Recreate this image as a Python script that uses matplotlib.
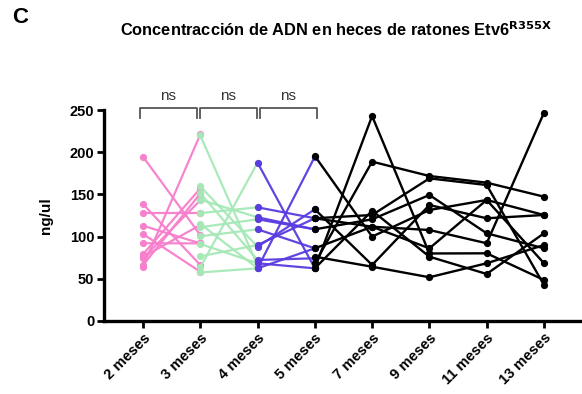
import numpy as np
import matplotlib.pyplot as plt

plt.rcParams['font.family'] = ['Liberation Sans', 'DejaVu Sans']

meses = ['2 meses', '3 meses', '4 meses', '5 meses', '7 meses', '9 meses', '11 meses', '13 meses']

# pares 2 -> 3 meses
rosa_2m = [194.7, 138.6, 127.6, 112.9, 103.1, 92.1, 79.0, 74.3, 64.3, 66.0, 76.0]
rosa_3m = [102.0, 66.4, 127.6, 92.0, 58.4, 92.0, 157.0, 143.0, 221.0, 151.0, 113.7]

# pares 3 -> 4 meses
verde_3m = [220.0, 159.5, 151.6, 143.7, 127.8, 115.1, 111.1, 100.4, 91.3, 76.6, 63.5, 57.5]
verde_4m = [66.0, 88.0, 72.3, 122.9, 134.7, 62.4, 120.5, 108.6, 68.4, 90.0, 187.6, 62.4]

# pares 4 -> 5 meses
azul_4m = [187.6, 62.4, 134.7, 122.9, 120.5, 108.6, 90.0, 88.0, 72.3, 68.4, 62.4]
azul_5m = [62.4, 194.7, 121.7, 108.6, 108.6, 86.1, 121.7, 132.3, 74.3, 62.4, 86.1]

# seguimiento 5 -> 13 meses (un raton por fila)
negro = [
    [195.5, 100.0, 131.5, 143.4, 125.6],
    [62.4, 242.9, 80.0, 80.2, 48.6],
    [68.4, 188.8, 171.8, 163.9, 147.3],
    [121.7, 125.6, 169.0, 161.1, 42.7],
    [132.3, 66.4, 137.4, 121.7, 125.6],
    [108.6, 120.5, 149.3, 103.9, 86.1],
    [86.1, 111.7, 107.8, 92.1, 246.8],
    [76.2, 64.3, 51.8, 68.4, 90.0],
    [121.7, 111.7, 86.1, 143.4, 68.4],
    [62.4, 130.7, 76.2, 55.7, 103.9],
]

fig = plt.figure(figsize=(5.82, 3.94), dpi=100)
ax = fig.add_axes([0.1787, 0.1853, 0.818, 0.5355])

def pares(x0, a, b, color):
    for ya, yb in zip(a, b):
        ax.plot([x0, x0 + 1], [ya, yb], '-o', color=color, lw=1.6, ms=4.2, alpha=0.95)

pares(0, rosa_2m, rosa_3m, '#f77fcc')
pares(1, verde_3m, verde_4m, '#a6e8b6')
pares(2, azul_4m, azul_5m, '#5a3be0')
for fila in negro:
    ax.plot(range(3, 8), fila, '-o', color='black', lw=1.7, ms=4.2)

ax.set_xlim(-0.68, 7.63)
ax.set_ylim(0, 250)
ax.set_yticks(np.arange(0, 251, 50))
ax.set_xticks(range(len(meses)))
ax.set_xticklabels(meses, rotation=45, ha='right', rotation_mode='anchor',
                   fontweight='bold', fontsize=10.5)
for lab in ax.get_yticklabels():
    lab.set_fontweight('bold')
    lab.set_fontsize(10.5)
ax.tick_params(width=2, length=5, direction='out', pad=2)
ax.spines['top'].set_visible(False)
ax.spines['right'].set_visible(False)
ax.spines['left'].set_linewidth(2.4)
ax.spines['bottom'].set_linewidth(2.4)
ax.set_ylabel('ng/ul', fontweight='bold', fontsize=11, labelpad=12)

# corchetes de significancia
for i in range(3):
    x1 = i - 0.06 + 0.05 * i
    x2 = x1 + 1.0
    ax.plot([x1, x1, x2, x2], [240, 252, 252, 240], color='#555555', lw=1.3, clip_on=False)
    ax.text((x1 + x2) / 2, 258, 'ns', ha='center', va='bottom', fontsize=11, color='#333333')

fig.text(0.577, 0.925, r'Concentracción de ADN en heces de ratones Etv6$^{\mathbf{R355X}}$',
         ha='center', va='center', fontsize=11.8, fontweight='bold')
fig.text(0.02, 0.955, 'C', ha='left', va='center', fontsize=16, fontweight='bold')

fig.savefig('out.png', dpi=100)
